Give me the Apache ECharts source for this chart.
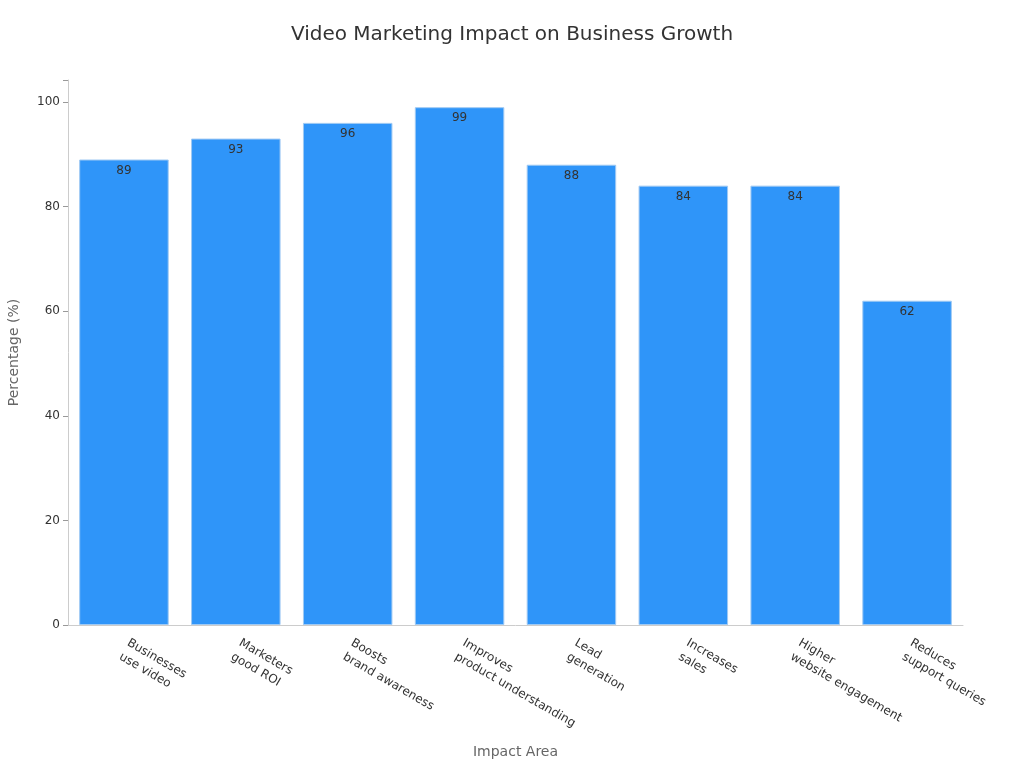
<!DOCTYPE html>
<html><head><meta charset="utf-8">
<script src="https://cdn.jsdelivr.net/npm/echarts@6/dist/echarts.min.js"></script>
<style>html,body{margin:0;padding:0;background:#fff}#c{width:1024px;height:768px}</style>
</head><body><div id="c"></div>
<script>
const categories = ["Businesses\nuse video","Marketers\ngood ROI","Boosts\nbrand awareness","Improves\nproduct understanding","Lead\ngeneration","Increases\nsales","Higher\nwebsite engagement","Reduces\nsupport queries"];
const values = [89,93,96,99,88,84,84,62];
const yTicks = [0,20,40,60,80,100];
const chart = echarts.init(document.getElementById('c'));
const font = "DejaVu Sans";
chart.setOption({
  backgroundColor:'#fff',
  title:{text:'Video Marketing Impact on Business Growth',left:'center',top:20,textStyle:{fontFamily:font,fontSize:20,fontWeight:'normal',color:'#333'}},
  grid:{left:68,right:61,top:80,bottom:143,containLabel:false,outerBoundsMode:'none'},
  xAxis:{type:'category',data:categories,name:'Impact Area',nameLocation:'middle',nameGap:120,
    nameTextStyle:{fontFamily:font,fontSize:14,color:'#666'},
    axisLine:{lineStyle:{color:'#ccc'}},axisTick:{alignWithLabel:true,lineStyle:{color:'#999'}},
    axisLabel:{rotate:-30,fontFamily:font,fontSize:12,lineHeight:16,color:'#333',interval:0,margin:24}},
  yAxis:{type:'value',min:0,max:104.2,interval:20,name:'Percentage (%)',nameLocation:'middle',nameGap:47,
    nameTextStyle:{fontFamily:font,fontSize:14,color:'#666'},
    axisLine:{show:true,lineStyle:{color:'#ccc'}},axisTick:{show:true,lineStyle:{color:'#999'}},
    splitLine:{show:false},
    axisLabel:{fontFamily:font,fontSize:12,color:'#333',formatter:v=>yTicks.includes(v)?String(v):''}},
  series:[{type:'bar',data:values,barCategoryGap:'20%',
    itemStyle:{color:'#2f95f9',borderColor:'#9fc9f3',borderWidth:1},
    label:{show:true,position:'insideTop',distance:5,fontFamily:font,fontSize:12,color:'#333'}}]
});
</script></body></html>
